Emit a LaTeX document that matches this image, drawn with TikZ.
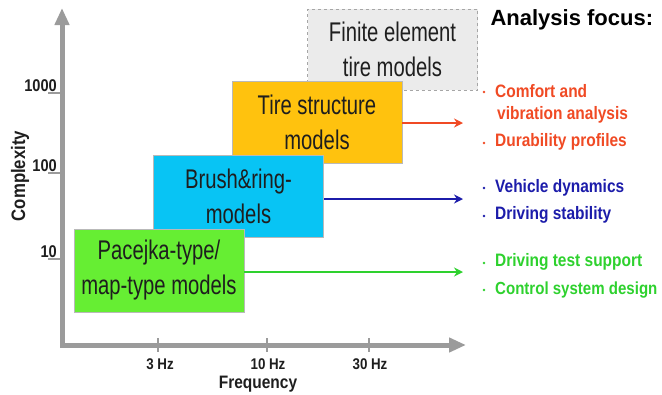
\documentclass[tikz,border=0pt]{standalone}
\usepackage{fontspec}
\setmainfont{Liberation Sans}
\newfontfamily\narrowfont[FakeStretch=0.75]{Liberation Sans}
\newfontfamily\semifont[FakeStretch=0.86]{Liberation Sans}
\usetikzlibrary{arrows.meta, positioning}
\definecolor{axisgray}{HTML}{9b9b9b}
\definecolor{pacgreen}{HTML}{66ee33}
\definecolor{brushblue}{HTML}{08c4f4}
\definecolor{tireorange}{HTML}{ffc20e}
\definecolor{femgray}{HTML}{ebebeb}
\definecolor{focusred}{HTML}{f04a24}
\definecolor{focusblue}{HTML}{1c1caa}
\definecolor{focusgreen}{HTML}{2ed12e}
\definecolor{textdark}{HTML}{1e1e1e}

\begin{document}
\begin{tikzpicture}[x=1pt, y=-1pt,
    model/.style={draw=gray!55, line width=0.8pt, minimum width=170pt, minimum height=82pt,
        align=center, text=textdark, font=\narrowfont\fontsize{27}{35}\selectfont},
    tick/.style={axisgray, line width=1.2pt},
    ticklabel/.style={text=textdark, inner sep=0pt, font=\semifont\bfseries\fontsize{15.5}{17}\selectfont},
    axislabel/.style={text=textdark, font=\semifont\bfseries\fontsize{18}{20}\selectfont},
    focus/.style={anchor=west, inner sep=0pt, font=\semifont\bfseries\fontsize{18}{20}\selectfont},
    dot/.style={radius=1.3pt},
    link/.style={line width=1.5pt, -{Stealth[length=9pt, width=9pt, inset=3pt]}}]
    \useasboundingbox (0,0) rectangle (662,394);

    % axes
    \coordinate (origin) at (62,345);
    \coordinate (ytop) at (62,8);
    \coordinate (xend) at (466,345);
    \draw[axisgray, line width=5pt, {Triangle[length=17pt, width=14pt]}-{Triangle[length=17pt, width=14pt]}]
        (ytop) -- (origin) -- (xend);

    \draw[tick] (48,93) -- (62,93);
    \draw[tick] (48,173) -- (62,173);
    \draw[tick] (48,259) -- (62,259);
    \node[ticklabel, anchor=base east, font=\semifont\bfseries\fontsize{17}{19}\selectfont] (c1000) at (57,91) {1000};
    \node[ticklabel, anchor=base east, font=\semifont\bfseries\fontsize{17}{19}\selectfont] (c100) at (57,171) {100};
    \node[ticklabel, anchor=base east, font=\semifont\bfseries\fontsize{17}{19}\selectfont] (c10) at (57,257) {10};

    \draw[tick] (158,338) -- (158,352);
    \draw[tick] (267,338) -- (267,352);
    \draw[tick] (369,338) -- (369,352);
    \node[ticklabel] (f3) at (160,364) {3 Hz};
    \node[ticklabel] (f10) at (268,364) {10 Hz};
    \node[ticklabel] (f30) at (370,364) {30 Hz};

    \node[axislabel] (freq) at (258,384) {Frequency};
    \node[axislabel, rotate=90, font=\semifont\bfseries\fontsize{19.5}{21}\selectfont] (compl) at (20,176) {Complexity};

    % model boxes
    \node[model, fill=femgray, draw=gray!70, dashed, minimum height=81pt] (fem) at (392.5,49.5) {Finite element\\tire models};
    \node[model, fill=tireorange] (tire) at (317,122) {Tire structure\\models};
    \node[model, fill=brushblue] (brush) at (238.5,196) {Brush\&ring-\\models};
    \node[model, fill=pacgreen, minimum height=83pt] (pac) at (159,270.5) {Pacejka-type/\\map-type models};

    % arrows to focus
    \coordinate (tiptire) at (463,123);
    \coordinate (tipbrush) at (463,199);
    \coordinate (tippac) at (463,272);
    \draw[link, focusred] (tire.east |- tiptire) -- (tiptire);
    \draw[link, focusblue] (brush.east |- tipbrush) -- (tipbrush);
    \draw[link, focusgreen] (pac.east |- tippac) -- (tippac);

    % analysis focus
    \node[anchor=west, text=black, font=\bfseries\fontsize{22}{26}\selectfont] (head) at (487,20) {Analysis focus:};

    \fill[focusred] (484,92) circle[dot];
    \fill[focusred] (484,143) circle[dot];
    \node[focus, text=focusred] (comfort) at (495,91) {Comfort and};
    \node[focus, text=focusred] (vibr) at (497,115) {vibration analysis};
    \node[focus, text=focusred] (dura) at (495,142) {Durability profiles};

    \fill[focusblue] (484,188) circle[dot];
    \fill[focusblue] (484,216) circle[dot];
    \node[focus, text=focusblue] (vehdyn) at (495,188) {Vehicle dynamics};
    \node[focus, text=focusblue] (stab) at (495,215) {Driving stability};

    \fill[focusgreen] (484,263) circle[dot];
    \fill[focusgreen] (484,290) circle[dot];
    \node[focus, text=focusgreen] (testsup) at (495,262) {Driving test support};
    \node[focus, text=focusgreen, font=\semifont\bfseries\fontsize{17.5}{20}\selectfont] (ctrl) at (495,290) {Control system design};
\end{tikzpicture}
\end{document}
